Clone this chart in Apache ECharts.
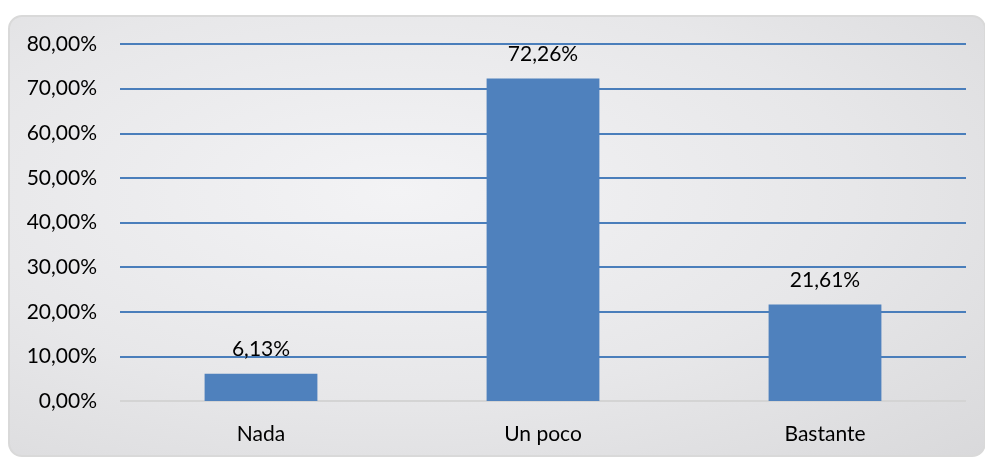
<!DOCTYPE html>
<html>
<head>
<meta charset="utf-8">
<script src="https://cdn.jsdelivr.net/npm/echarts@6/dist/echarts.min.js"></script>
<style>
  html, body { margin: 0; padding: 0; background: #fff; }
  #frame {
    position: absolute; left: 8px; top: 15px; width: 974px; height: 438px;
    border: 2px solid #d9d9d9; border-radius: 14px; overflow: hidden;
    background: radial-gradient(ellipse at 40% 40%, #f3f3f5 0%, #e7e7e9 55%, #d9d9db 100%);
  }
  #chart { position: absolute; left: 0; top: 0; width: 985px; height: 457px; }
</style>
</head>
<body>
<div id="frame"></div>
<div id="chart"></div>
<script>
var categories = ['Nada', 'Un poco', 'Bastante'];
var values = [6.13, 72.26, 21.61];
var yTicks = [0, 10, 20, 30, 40, 50, 60, 70, 80];

function pct(v) {
  return v.toFixed(2).replace('.', ',') + '%';
}

// gris para la linea del 0, azul para las demas
var gridColors = yTicks.map(function (t, i) { return i === 0 ? '#d4d4d4' : '#4a7ebb'; });

var myChart = echarts.init(document.getElementById('chart'));
var option = {
  backgroundColor: 'transparent',
  textStyle: { fontFamily: 'Lato, "Open Sans", sans-serif' },
  grid: { left: 120, right: 19, top: 44, bottom: 56 },
  xAxis: {
    type: 'category',
    data: categories,
    axisLine: { show: false },
    axisTick: { show: false },
    axisLabel: { color: '#000', fontSize: 21, margin: 23 }
  },
  yAxis: {
    type: 'value',
    min: yTicks[0],
    max: yTicks[yTicks.length - 1],
    interval: 10,
    axisLine: { show: false },
    axisTick: { show: false },
    axisLabel: { color: '#000', fontSize: 21, margin: 23, formatter: pct },
    splitLine: { lineStyle: { color: gridColors, width: 2 } }
  },
  series: [{
    type: 'bar',
    data: values,
    barWidth: '40%',
    itemStyle: { color: '#4f81bd' },
    label: {
      show: true,
      position: 'top',
      distance: 14,
      color: '#000',
      fontSize: 21,
      formatter: function (p) { return pct(p.value); }
    }
  }]
};
myChart.setOption(option);
</script>
</body>
</html>
